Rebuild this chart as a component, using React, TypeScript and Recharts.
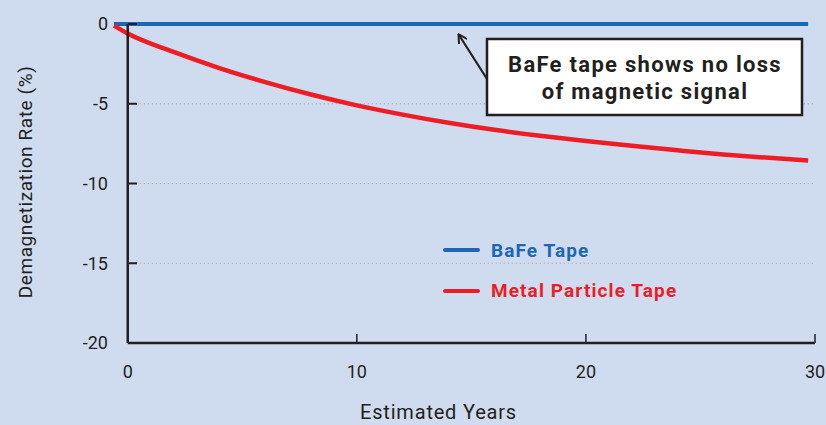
import React from 'react';
import { LineChart, Line, XAxis, YAxis, ReferenceLine, Legend } from 'recharts';

const years = [-0.6, 0, 2, 4, 6, 8, 10, 12, 14, 16, 18, 20, 22, 24, 26, 28, 29.7];
const bafeValues = [0, 0, 0, 0, 0, 0, 0, 0, 0, 0, 0, 0, 0, 0, 0, 0, 0];
const metalValues = [-0.1, -0.6, -1.75, -2.76, -3.64, -4.42, -5.1, -5.68, -6.19, -6.63, -7.01, -7.34, -7.64, -7.92, -8.18, -8.39, -8.56];
const xTicks = [0, 10, 20, 30];
const yTicks = [0, -5, -10, -15, -20];
const gridValues = [-5, -10, -15];
const seriesNames = ['BaFe Tape', 'Metal Particle Tape'];
const annotationLines = ['BaFe tape shows no loss', 'of magnetic signal'];

const BG = '#cfdbee';
const BLUE = '#1c67b5';
const RED = '#ee1d25';
const INK = '#231f20';
const FONT = 'Roboto, "DejaVu Sans", sans-serif';

const data = years.map((y, i) => ({ year: y, bafe: bafeValues[i], metal: metalValues[i] }));

const YTick = (props: any) => {
  const { x, y, payload } = props;
  return (
    <g>
      <text x={x} y={y} dy="0.35em" textAnchor="end" fill={INK} fontSize={18} fontFamily={FONT}>
        {payload.value}
      </text>
      <line x1={x + 20} x2={x + 29} y1={y} y2={y} stroke={INK} strokeWidth={2} />
    </g>
  );
};

const XTick = (props: any) => {
  const { x, y, payload } = props;
  return (
    <g>
      {payload.value !== 0 && (
        <line x1={x} x2={x} y1={y - 9} y2={y} stroke={INK} strokeWidth={1.5} />
      )}
      <text x={x} y={y + 29} dy="0.35em" textAnchor="middle" fill={INK} fontSize={18} fontFamily={FONT}>
        {payload.value}
      </text>
    </g>
  );
};

const LegendContent = (props: any) => {
  const { payload } = props;
  return (
    <div>
      {(payload || []).map((entry: any) => (
        <div key={entry.value} style={{ display: 'flex', alignItems: 'center', height: 40.5 }}>
          <div style={{ width: 37, height: 4, background: entry.color, borderRadius: 2, marginRight: 11 }} />
          <span style={{ color: entry.color, fontFamily: FONT, fontWeight: 700, fontSize: 19, letterSpacing: 1.1 }}>
            {entry.value}
          </span>
        </div>
      ))}
    </div>
  );
};

export default function App() {
  return (
    <div style={{ position: 'fixed', left: 0, top: 0, width: 826, height: 425, background: BG, overflow: 'hidden' }}>
      <LineChart width={826} height={425} data={data} margin={{ top: 24, right: 11, left: 0, bottom: 0 }}>
        {gridValues.map((v) => (
          <ReferenceLine
            key={v}
            segment={[{ x: 0, y: v }, { x: 30, y: v }]}
            stroke="#9a9ea8"
            strokeWidth={1}
            strokeDasharray="1 3"
          />
        ))}
        <XAxis
          dataKey="year"
          type="number"
          domain={[-0.6, 30]}
          ticks={xTicks}
          axisLine={false}
          tickLine={false}
          tickSize={0}
          tickMargin={0}
          height={82}
          tick={<XTick />}
          interval={0}
          label={{
            value: 'Estimated Years',
            position: 'insideBottom',
            offset: 6,
            dx: -26,
            fill: INK,
            fontSize: 20,
            fontFamily: FONT,
            letterSpacing: 0.8,
          }}
        />
        <YAxis
          type="number"
          domain={[-20, 0]}
          ticks={yTicks}
          axisLine={false}
          tickLine={false}
          tickSize={0}
          tickMargin={6}
          width={114}
          tick={<YTick />}
          interval={0}
          label={{
            content: () => (
              <text
                x={25}
                y={182}
                transform="rotate(-90 25 182)"
                textAnchor="middle"
                dominantBaseline="central"
                fill={INK}
                fontSize={19}
                fontFamily={FONT}
                letterSpacing={0.6}
              >
                Demagnetization Rate (%)
              </text>
            ),
          }}
        />
        <Line
          type="monotone"
          dataKey="bafe"
          name={seriesNames[0]}
          stroke={BLUE}
          strokeWidth={4}
          dot={false}
          isAnimationActive={false}
        />
        <Line
          type="monotone"
          dataKey="metal"
          name={seriesNames[1]}
          stroke={RED}
          strokeWidth={4.5}
          dot={false}
          isAnimationActive={false}
        />
        <ReferenceLine segment={[{ x: 0, y: -20 }, { x: 0, y: 0 }]} stroke={INK} strokeWidth={2.5} />
        <ReferenceLine segment={[{ x: 0, y: -20 }, { x: 30, y: -20 }]} stroke={INK} strokeWidth={2.5} />
        <Legend
          layout="vertical"
          align="center"
          verticalAlign="middle"
          content={<LegendContent />}
          wrapperStyle={{ left: 443, top: 230, width: 'auto' }}
        />
      </LineChart>
      <svg width={826} height={425} style={{ position: 'absolute', left: 0, top: 0, pointerEvents: 'none' }}>
        <defs>
          <marker id="arrowHead" markerWidth="10" markerHeight="10" refX="8" refY="5" orient="auto" markerUnits="userSpaceOnUse">
            <path d="M0,0 L9,5 L0,10" fill="none" stroke={INK} strokeWidth={2} />
          </marker>
        </defs>
        <line x1={487} y1={79} x2={459} y2={35} stroke={INK} strokeWidth={2.2} markerEnd="url(#arrowHead)" />
        <rect x={487} y={39} width={315} height={76} fill="#ffffff" stroke={INK} strokeWidth={2.5} />
        {annotationLines.map((t, i) => (
          <text
            key={t}
            x={645}
            y={72 + i * 27}
            textAnchor="middle"
            fill={INK}
            fontSize={22}
            fontWeight={700}
            fontFamily={FONT}
            letterSpacing={1.3}
          >
            {t}
          </text>
        ))}
      </svg>
    </div>
  );
}
